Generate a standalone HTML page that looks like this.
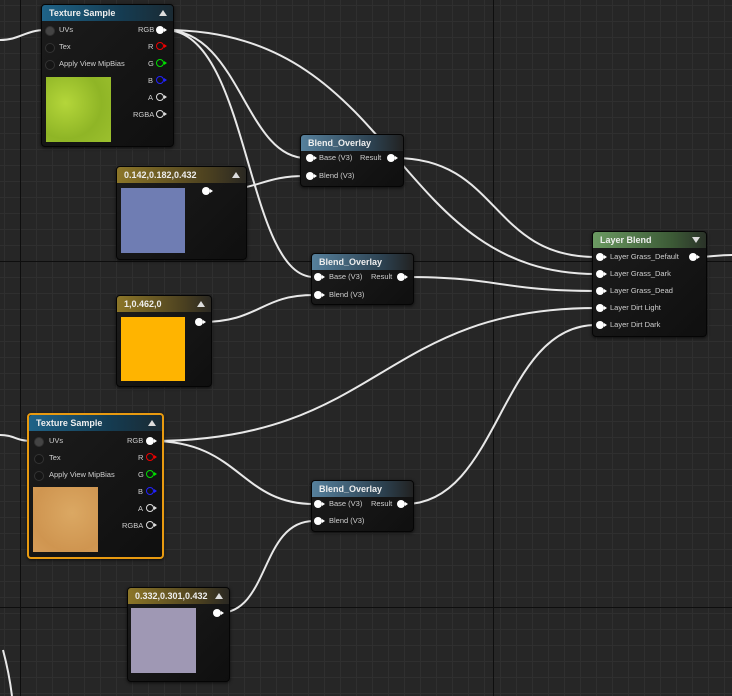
<!DOCTYPE html>
<html><head><meta charset="utf-8"><style>
body{margin:0;width:732px;height:696px;overflow:hidden;background:#262626;font-family:"Liberation Sans",sans-serif;position:relative}
.grid{position:absolute;inset:0;background-image:linear-gradient(#2f2f2f 1px,transparent 1px),linear-gradient(90deg,#2f2f2f 1px,transparent 1px);background-size:16px 16px;background-position:4px 5px}
.maj{position:absolute;background:#0e0e0e}
.node{position:absolute;background:linear-gradient(135deg,#1c1c1c,#0f0f0f);border:1px solid #050505;border-radius:4px;box-shadow:0 1px 3px rgba(0,0,0,.7)}
.hd{height:16px;border-radius:3px 3px 0 0;color:#eee;font-size:9px;font-weight:bold;line-height:16px;padding-left:7px;position:relative}
.hd .tri{position:absolute;right:6px;top:5px;width:0;height:0;border-left:4px solid transparent;border-right:4px solid transparent;border-bottom:6px solid #ddd}
.hd .tri.d{border-bottom:none;border-top:6px solid #ddd}
.tex{background:linear-gradient(90deg,#1f6388,#153c52 60%,#1a2a33)}
.bo{background:linear-gradient(90deg,#56809c,#2c4150 70%,#222)}
.con{background:linear-gradient(90deg,#8c7628,#4c4120 70%,#2a2822)}
.lb{background:linear-gradient(90deg,#6b9a62,#3c5a36 70%,#2a3228)}
.t{position:absolute;font-size:7.5px;color:#cfcfcf;white-space:nowrap;line-height:10px}
.p{position:absolute;width:8px;height:8px;border-radius:50%;background:#fff}
.p:after{content:"";position:absolute;left:8px;top:2px;border-top:2px solid transparent;border-bottom:2px solid transparent;border-left:3px solid #fff}
.o{position:absolute;width:6px;height:6px;border-radius:50%;border:1.5px solid #ddd}
.o:after{content:"";position:absolute;left:7px;top:1px;border-top:2px solid transparent;border-bottom:2px solid transparent;border-left:3px solid currentColor}
.gi{position:absolute;width:8px;height:8px;border-radius:50%;border:1px solid #333;background:#151515}
</style></head><body>
<div class="grid"></div>
<div class="maj" style="left:20px;top:0;width:1px;height:696px"></div>
<div class="maj" style="left:493px;top:0;width:1px;height:696px"></div>
<div class="maj" style="left:0;top:261px;width:732px;height:1px"></div>
<div class="maj" style="left:0;top:607px;width:732px;height:1px"></div>

<svg width="732" height="696" style="position:absolute;left:0;top:0" fill="none" stroke="#e8e8e8" stroke-width="2">
<path d="M0,40 C20,40 25,30 46,30"/>
<path d="M165,30 C240,30 245,158 306,158"/>
<path d="M165,30 C250,30 245,277 314,277"/>
<path d="M165,30 C400,30 390,274 596,274"/>
<path d="M395,158 C500,158 490,257 596,257"/>
<path d="M208,191 C260,191 260,176 306,176"/>
<path d="M405,277 C500,277 500,291 596,291"/>
<path d="M201,322 C260,322 260,295 314,295"/>
<path d="M152,441 C380,441 380,308 596,308"/>
<path d="M152,441 C240,441 240,504 314,504"/>
<path d="M405,504 C500,504 500,325 596,325"/>
<path d="M219,613 C270,613 260,521 314,521"/>
<path d="M0,435 C15,435 15,441 33,441"/>
<path d="M3,650 C7,665 10,680 12,696"/>
<path d="M697,257 C712,257 716,255 732,255"/>
</svg>

<!-- Texture Sample 1 -->
<div class="node" style="left:41px;top:4px;width:131px;height:141px">
<div class="hd tex">Texture Sample<span class="tri"></span></div>
<div style="position:absolute;left:4px;top:72px;width:65px;height:65px;background:radial-gradient(circle at 30% 40%,#b4d63a,#8fb526 60%,#9cc02e)"></div>
</div>
<div class="gi" style="left:45px;top:26px;background:#444"></div><div class="t" style="left:59px;top:25px">UVs</div>
<div class="gi" style="left:45px;top:43px"></div><div class="t" style="left:59px;top:42px">Tex</div>
<div class="gi" style="left:45px;top:60px"></div><div class="t" style="left:59px;top:59px">Apply View MipBias</div>
<div class="t" style="left:138px;top:25px">RGB</div><div class="p" style="left:156px;top:26px"></div>
<div class="t" style="left:148px;top:42px">R</div><div class="o" style="left:156px;top:42px;border-color:#e00;color:#e00"></div>
<div class="t" style="left:148px;top:59px">G</div><div class="o" style="left:156px;top:59px;border-color:#0d0;color:#0d0"></div>
<div class="t" style="left:148px;top:76px">B</div><div class="o" style="left:156px;top:76px;border-color:#22f;color:#22f"></div>
<div class="t" style="left:148px;top:93px">A</div><div class="o" style="left:156px;top:93px;color:#ddd"></div>
<div class="t" style="left:133px;top:110px">RGBA</div><div class="o" style="left:156px;top:110px;color:#ddd"></div>

<!-- Constant 1 -->
<div class="node" style="left:116px;top:166px;width:129px;height:92px">
<div class="hd con">0.142,0.182,0.432<span class="tri"></span></div>
<div style="position:absolute;left:4px;top:21px;width:64px;height:65px;background:#6f7db3"></div>
</div>
<div class="p" style="left:202px;top:187px"></div>

<!-- Blend Overlay 1 -->
<div class="node" style="left:300px;top:134px;width:102px;height:51px">
<div class="hd bo">Blend_Overlay</div>
</div>
<div class="p" style="left:306px;top:154px"></div><div class="t" style="left:319px;top:153px">Base (V3)</div>
<div class="t" style="left:360px;top:153px">Result</div><div class="p" style="left:387px;top:154px"></div>
<div class="p" style="left:306px;top:172px"></div><div class="t" style="left:319px;top:171px">Blend (V3)</div>

<!-- Blend Overlay 2 -->
<div class="node" style="left:311px;top:253px;width:101px;height:50px">
<div class="hd bo">Blend_Overlay</div>
</div>
<div class="p" style="left:314px;top:273px"></div><div class="t" style="left:329px;top:272px">Base (V3)</div>
<div class="t" style="left:371px;top:272px">Result</div><div class="p" style="left:397px;top:273px"></div>
<div class="p" style="left:314px;top:291px"></div><div class="t" style="left:329px;top:290px">Blend (V3)</div>

<!-- Constant 2 -->
<div class="node" style="left:116px;top:295px;width:94px;height:90px">
<div class="hd con">1,0.462,0<span class="tri"></span></div>
<div style="position:absolute;left:4px;top:21px;width:64px;height:64px;background:#ffb400"></div>
</div>
<div class="p" style="left:195px;top:318px"></div>

<!-- Texture Sample 2 -->
<div class="node" style="left:27px;top:413px;width:133px;height:142px;border:2px solid #e89a10">
<div class="hd tex">Texture Sample<span class="tri"></span></div>
<div style="position:absolute;left:4px;top:72px;width:65px;height:65px;background:radial-gradient(circle at 60% 40%,#dba863,#cf9550 70%,#d59c58)"></div>
</div>
<div class="gi" style="left:34px;top:437px;background:#444"></div><div class="t" style="left:49px;top:436px">UVs</div>
<div class="gi" style="left:34px;top:454px"></div><div class="t" style="left:49px;top:453px">Tex</div>
<div class="gi" style="left:34px;top:471px"></div><div class="t" style="left:49px;top:470px">Apply View MipBias</div>
<div class="t" style="left:127px;top:436px">RGB</div><div class="p" style="left:146px;top:437px"></div>
<div class="t" style="left:138px;top:453px">R</div><div class="o" style="left:146px;top:453px;border-color:#e00;color:#e00"></div>
<div class="t" style="left:138px;top:470px">G</div><div class="o" style="left:146px;top:470px;border-color:#0d0;color:#0d0"></div>
<div class="t" style="left:138px;top:487px">B</div><div class="o" style="left:146px;top:487px;border-color:#22f;color:#22f"></div>
<div class="t" style="left:138px;top:504px">A</div><div class="o" style="left:146px;top:504px;color:#ddd"></div>
<div class="t" style="left:122px;top:521px">RGBA</div><div class="o" style="left:146px;top:521px;color:#ddd"></div>

<!-- Blend Overlay 3 -->
<div class="node" style="left:311px;top:480px;width:101px;height:50px">
<div class="hd bo">Blend_Overlay</div>
</div>
<div class="p" style="left:314px;top:500px"></div><div class="t" style="left:329px;top:499px">Base (V3)</div>
<div class="t" style="left:371px;top:499px">Result</div><div class="p" style="left:397px;top:500px"></div>
<div class="p" style="left:314px;top:517px"></div><div class="t" style="left:329px;top:516px">Blend (V3)</div>

<!-- Constant 3 -->
<div class="node" style="left:127px;top:587px;width:101px;height:93px">
<div class="hd con">0.332,0.301,0.432<span class="tri"></span></div>
<div style="position:absolute;left:3px;top:20px;width:65px;height:65px;background:#9f98b4"></div>
</div>
<div class="p" style="left:213px;top:609px"></div>

<!-- Layer Blend -->
<div class="node" style="left:592px;top:231px;width:113px;height:104px">
<div class="hd lb">Layer Blend<span class="tri d"></span></div>
</div>
<div class="p" style="left:596px;top:253px"></div><div class="t" style="left:610px;top:252px">Layer Grass_Default</div><div class="p" style="left:689px;top:253px"></div>
<div class="p" style="left:596px;top:270px"></div><div class="t" style="left:610px;top:269px">Layer Grass_Dark</div>
<div class="p" style="left:596px;top:287px"></div><div class="t" style="left:610px;top:286px">Layer Grass_Dead</div>
<div class="p" style="left:596px;top:304px"></div><div class="t" style="left:610px;top:303px">Layer Dirt Light</div>
<div class="p" style="left:596px;top:321px"></div><div class="t" style="left:610px;top:320px">Layer Dirt Dark</div>
</body></html>
